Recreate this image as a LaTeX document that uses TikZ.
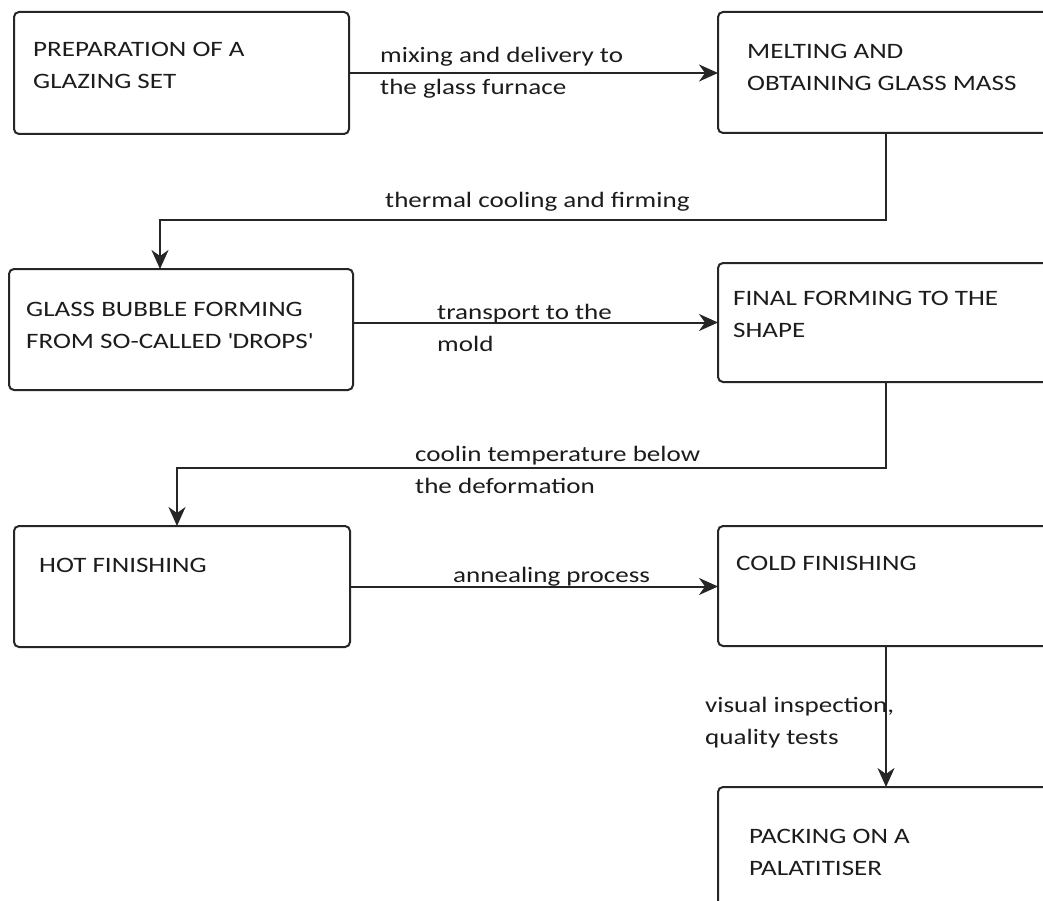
\documentclass[tikz,border=0pt]{standalone}
\usepackage{fontspec}
\setmainfont{Carlito}[FakeStretch=1.23]
\usetikzlibrary{arrows.meta}
\definecolor{linec}{HTML}{262626}
\definecolor{textc}{HTML}{1C1C1C}
\begin{document}
\begin{tikzpicture}[x=1pt,y=-1pt,
  stepbox/.style={draw=linec,line width=2pt,rounded corners=5pt,outer sep=0pt,inner sep=0pt,anchor=north west},
  boxtext/.style={anchor=base west,align=left,inner sep=0pt,text=textc,font=\fontsize{22}{32}\selectfont},
  edgetext/.style={anchor=base west,align=left,inner sep=0pt,text=textc,font=\fontsize{22}{32}\selectfont},
  flow/.style={draw=linec,line width=2pt,-{Stealth[length=19pt,width=17pt,inset=6pt]}}]
\useasboundingbox (0,0) rectangle (1043,901);
\clip (0,0) rectangle (1043,901);
\fill[white] (0,0) rectangle (1043,901);
% boxes
\node[stepbox,minimum width=335pt,minimum height=122pt] (b1) at (14,12) {};
\node[stepbox,minimum width=360pt,minimum height=121pt] (b2) at (718,12) {};
\node[stepbox,minimum width=344pt,minimum height=121pt] (b3) at (9,269) {};
\node[stepbox,minimum width=360pt,minimum height=119pt] (b4) at (718,263) {};
\node[stepbox,minimum width=336pt,minimum height=121pt] (b5) at (14,526) {};
\node[stepbox,minimum width=360pt,minimum height=120pt] (b6) at (718,526) {};
\node[stepbox,minimum width=360pt,minimum height=160pt] (b7) at (718,787) {};
% box texts (base = last line)
\node[boxtext] (t1) at (33,89) {PREPARATION OF A\\GLAZING SET};
\node[boxtext] (t2) at (747,91) {MELTING AND\\OBTAINING GLASS MASS};
\node[boxtext] (t3) at (26,348) {GLASS BUBBLE FORMING\\FROM SO-CALLED \textquotesingle DROPS\textquotesingle};
\node[boxtext] (t4) at (733,337) {FINAL FORMING TO THE\\SHAPE};
\node[boxtext] (t5) at (39,572) {HOT FINISHING};
\node[boxtext] (t6) at (736,570) {COLD FINISHING};
\node[boxtext] (t7) at (749,875) {PACKING ON A\\PALATITISER};
% connector corners
\coordinate (k1) at (886,220);
\coordinate (k2) at (160,220);
\coordinate (k3) at (886,468);
\coordinate (k4) at (177,468);
% connectors
\draw[flow] (b1.east) -- (b2.west |- b1.east);
\draw[flow] (b2.south -| k1) -- (k1) -- (k2) -- (b3.north -| k2);
\draw[flow] (b3.east |- b4.west) -- (b4.west);
\draw[flow] (b4.south -| k3) -- (k3) -- (k4) -- (b5.north -| k4);
\draw[flow] (b5.east) -- (b6.west |- b5.east);
\draw[flow] (b6.south -| k1) -- (b7.north -| k1);
% connector labels (base = last line)
\node[edgetext] (l1) at (380,95) {mixing and delivery to\\the glass furnace};
\node[edgetext] (l2) at (385,208) {thermal cooling and firming};
\node[edgetext] (l3) at (437,351) {transport to the\\mold};
\node[edgetext] (l4) at (415,493) {coolin temperature below\\the deformation};
\node[edgetext] (l5) at (453,582) {annealing process};
\node[edgetext] (l6) at (705,744) {visual inspection,\\quality tests};
\end{tikzpicture}
\end{document}
